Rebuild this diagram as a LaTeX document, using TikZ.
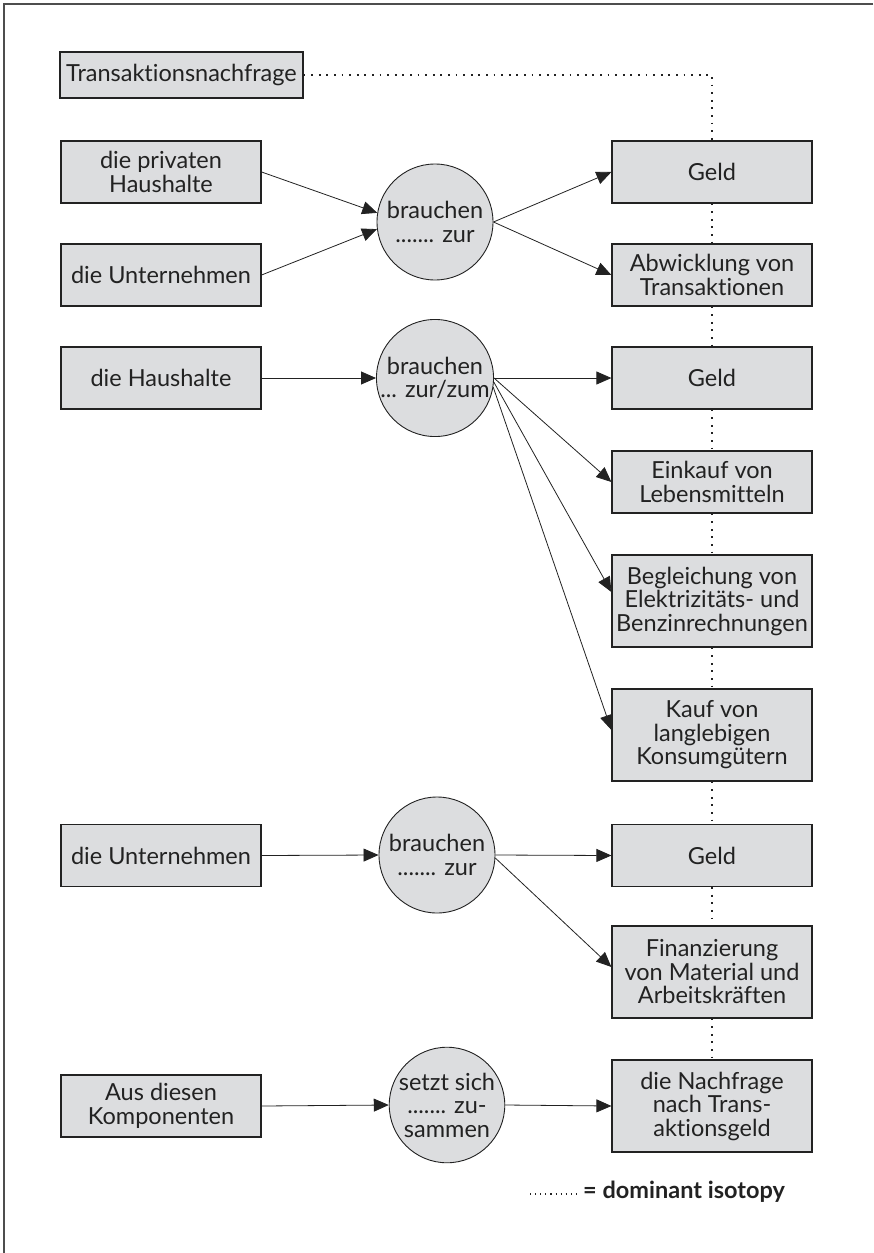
\documentclass[tikz,border=0pt]{standalone}
\usepackage{fontspec}
\setmainfont[Ligatures=NoCommon]{Lato}
\usetikzlibrary{arrows.meta,calc}
\definecolor{boxfill}{HTML}{DCDDDF}
\definecolor{ink}{HTML}{222222}
\begin{document}
\begin{tikzpicture}[x=1pt,y=-1pt,
  every node/.style={font=\fontsize{23.5}{23.5}\selectfont, text=ink, align=center, inner sep=0pt},
  box/.style={draw=ink, line width=1.2pt, fill=boxfill, minimum width=200pt, minimum height=62pt},
  tallbox/.style={box, minimum height=92pt},
  verb/.style={circle, draw=ink, line width=0.9pt, fill=boxfill, minimum size=116pt},
  flow/.style={draw=ink, line width=0.8pt, -{Triangle[length=15pt,width=13pt]}},
  isotopy/.style={draw=ink, line width=1.8pt, dash pattern=on 1.8pt off 5.8pt}
]
\useasboundingbox (0,0) rectangle (873,1253);
% frame edges
\draw[draw=ink!80, line width=1.2pt] (873,4) -- (4,4) -- (4,1253);

% left column
\node[box, minimum width=243pt, minimum height=46pt] (tn) at (181.5,75) {Transaktionsnachfrage};
\node[box] (hh1) at (161,172) {die privaten\\Haushalte};
\node[box] (un1) at (161,275) {die Unternehmen};
\node[box] (hh2) at (161,378) {die Haushalte};
\node[box] (un3) at (161,855.5) {die Unternehmen};
\node[box] (ad)  at (161,1106) {Aus diesen\\Komponenten};

% verbs
\node[verb] (c1) at (435,222) {brauchen\\....... zur};
\node[verb] (c2) at (435,378) {brauchen\\... zur/zum};
\node[verb] (c3) at (437,855) {brauchen\\....... zur};
\node[verb, minimum size=114pt] (c4) at (447,1105) {setzt sich\\....... zu-\\sammen};

% right column
\node[box] (g1) at (712,172) {Geld};
\node[box] (ab) at (712,275) {Abwicklung von\\Transaktionen};
\node[box] (g2) at (712,378) {Geld};
\node[box] (ek) at (712,482) {Einkauf von\\Lebensmitteln};
\node[tallbox] (bg) at (712,601) {Begleichung von\\Elektrizitäts- und\\Benzinrechnungen};
\node[tallbox] (kf) at (712,735) {Kauf von\\langlebigen\\Konsumgütern};
\node[box] (g3) at (712,855.5) {Geld};
\node[tallbox] (fi) at (712,972) {Finanzierung\\von Material und\\Arbeitskräften};
\node[tallbox] (nf) at (712,1106) {die Nachfrage\\nach Trans-\\aktionsgeld};

% dominant isotopy
\draw[isotopy] (tn.east) -| (g1.north);
\draw[isotopy] (g1.south) -- (ab.north);
\draw[isotopy] (ab.south) -- (g2.north);
\draw[isotopy] (g2.south) -- (ek.north);
\draw[isotopy] (ek.south) -- (bg.north);
\draw[isotopy] (bg.south) -- (kf.north);
\draw[isotopy] (kf.south) -- (g3.north);
\draw[isotopy] (g3.south) -- (fi.north);
\draw[isotopy] (fi.south) -- (nf.north);

% flows
\draw[flow] (hh1.east) -- (c1.171);
\draw[flow] (un1.east) -- (c1.187);
\draw[flow] (c1.east) -- (g1.west);
\draw[flow] (c1.east) -- (ab.west);

\draw[flow] (hh2.east) -- (c2.west);
\draw[flow] (c2.east) -- (g2.west);
\draw[flow] (c2.east) -- (ek.west);
\draw[flow] (c2.-4) -- ([yshift=9pt]bg.west);
\draw[flow] (c2.-9) -- ([yshift=5pt]kf.west);

\draw[flow] (un3.east) -- (c3.west);
\draw[flow] (c3.east) -- (g3.west);
\draw[flow] (c3.-3) -- ([yshift=5pt]fi.west);

\draw[flow] (ad.east) -- (c4.west);
\draw[flow] (c4.east) -- (nf.west);

% legend
\coordinate (la) at (530,1194);
\coordinate (lb) at (576,1194);
\draw[draw=ink, line width=1.1pt, dash pattern=on 1.1pt off 4pt] (la) -- (lb);
\node[anchor=west, font=\fontsize{23.5}{24}\selectfont\bfseries] (lg) at (583,1192) {= dominant isotopy};
\end{tikzpicture}
\end{document}
